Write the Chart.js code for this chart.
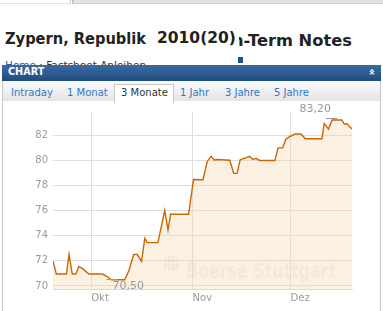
<!DOCTYPE html>
<html>
<head>
<meta charset="utf-8">
<title>Zypern, Republik - Chart</title>
<script src="https://cdn.jsdelivr.net/npm/chart.js@4.4.1/dist/chart.umd.min.js"></script>
<style>
  html, body { margin: 0; padding: 0; background: #fff; }
  body { width: 383px; height: 311px; overflow: hidden; position: relative; font-family: 'DejaVu Sans', Verdana, sans-serif; }
  .abs { position: absolute; white-space: nowrap; }
  /* top strip */
  .strip-left { left: 0; top: 0; width: 70px; height: 3px; border-right: 1px solid #cfcfcf; border-bottom: 1px solid #e2e2e2; background: #fff; }
  .strip-right { left: 72px; top: 0; width: 311px; height: 3px; background: #e3e3e3; border-bottom: 1px solid #d2d2d2; border-left: 2px solid #c4c4c4; }
  /* title pieces */
  .title-a { left: 5px; top: 32px; font-size: 15px; line-height: 15px; font-weight: bold; color: #222; transform: scaleX(0.975); transform-origin: left top; }
  .title-c { left: 232px; top: 33px; font-size: 16.3px; line-height: 16px; font-weight: bold; color: #222; }
  .title-b { left: 150px; top: 30px; width: 82px; height: 19px; padding-left: 7px; background: #fff; font-size: 15.5px; line-height: 17px; font-weight: bold; color: #222; overflow: hidden; z-index: 2; }
  .crumbs { left: 5px; top: 60px; font-size: 10.5px; line-height: 11px; color: #333; }
  .crumbs a { color: #1a5fa8; }
  .marker { left: 238px; top: 57px; width: 5px; height: 6px; background: #1f4e85; }
  /* chart box header */
  .bar { left: 2px; top: 65px; width: 379px; height: 16px; background: linear-gradient(#3a6ba1, #1f4c7e); z-index: 3; }
  .bar-title { left: 8px; top: 67px; font-size: 9.7px; line-height: 10px; font-weight: bold; color: #fff; z-index: 4; }
  .bar-icon { left: 368px; top: 65px; font-size: 11px; line-height: 14px; font-weight: bold; color: #fff; transform: rotate(-90deg); z-index: 4; }
  .tabs { left: 2px; top: 81px; width: 377px; height: 20px; background: linear-gradient(#fbfbfb, #e4e4e4); border-left: 1px solid #c8c8c8; border-right: 1px solid #c8c8c8; }
  .tab { top: 87px; font-size: 10px; line-height: 11px; color: #2e78c8; }
  .tab-sel { left: 114px; top: 84px; width: 58px; height: 18px; background: #fff; border: 1px solid #c8c8c8; border-bottom: none; }
  .panel { left: 2px; top: 101px; width: 377px; height: 210px; border-left: 1px solid #c8c8c8; border-right: 1px solid #c8c8c8; }
  canvas { position: absolute; left: 3px; top: 101px; }
</style>
</head>
<body>
  <div class="abs strip-left"></div>
  <div class="abs strip-right"></div>

  <div class="abs title-a">Zypern, Republik</div>
  <div class="abs title-c">n-Term Notes</div>
  <div class="abs title-b">2010(20)</div>

  <div class="abs crumbs"><a href="#">Home</a> : Factsheet Anleihen</div>
  <div class="abs marker"></div>

  <div class="abs bar"></div>
  <div class="abs bar-title">CHART</div>
  <div class="abs bar-icon">&raquo;</div>

  <div class="abs tabs"></div>
  <div class="abs tab-sel"></div>
  <div class="abs tab" style="left:11px">Intraday</div>
  <div class="abs tab" style="left:67px">1 Monat</div>
  <div class="abs tab" style="left:121px;color:#333">3 Monate</div>
  <div class="abs tab" style="left:180px">1 Jahr</div>
  <div class="abs tab" style="left:225px">3 Jahre</div>
  <div class="abs tab" style="left:274px">5 Jahre</div>

  <div class="abs panel"></div>
  <canvas id="chart" width="378" height="210"></canvas>

<script>
// Days counted from 1 Oct
const days = [-11.7, -10.7, -7.6, -6.8, -5.8, -4.7, -3.8, -2.75, -0.7, 3.4, 4.9, 6.2, 10.2, 11.5, 13.0, 14.1, 15.4, 16.4, 17.1, 20.4,
  22.5, 23.5, 24.3, 29.8, 31.3, 34.2, 35.5, 36.7, 37.7, 38.3, 42.4, 43.6, 44.6, 45.6, 47.2, 48.4, 49.5, 50.4, 51.5, 56.2,
  57.2, 58.6, 59.5, 60.7, 62.4, 64.2, 65.5, 70.6, 71.3, 72.6, 73.7, 76.7, 77.4, 78.2, 79.8];
const prices = [72.0, 70.95, 70.95, 72.5, 70.95, 70.95, 71.55, 71.4, 70.95, 70.95, 70.75, 70.5, 70.5, 71.2, 72.5, 72.5, 71.95, 73.8, 73.45, 73.45,
  76.0, 74.45, 75.7, 75.7, 78.47, 78.45, 79.9, 80.3, 80.0, 80.05, 80.0, 78.95, 78.95, 80.04, 80.17, 80.3, 80.05, 80.15, 79.98, 79.98,
  80.98, 80.98, 81.65, 81.87, 82.08, 82.08, 81.7, 81.7, 82.92, 82.48, 83.2, 83.2, 82.87, 82.9, 82.48];

const monthTicks = [0, 31, 61];
const monthLabels = ['Okt', 'Nov', 'Dez'];
const yTicks = [70, 72, 74, 76, 78, 80, 82];

const fmt = v => v.toFixed(2).replace('.', ',');

// Max / min markers with their labels
const extremesPlugin = {
  id: 'extremes',
  afterDraw(chart) {
    const ctx = chart.ctx;
    const xs = chart.scales.x, ys = chart.scales.y;
    const maxV = Math.max(...prices), minV = Math.min(...prices);
    const iMax = prices.indexOf(maxV), iMin = prices.indexOf(minV);
    ctx.save();
    ctx.strokeStyle = '#999';
    ctx.lineWidth = 1;
    ctx.fillStyle = '#999';
    ctx.font = '11px "DejaVu Sans"';
    ctx.textBaseline = 'alphabetic';

    let px = xs.getPixelForValue(days[iMax]), py = ys.getPixelForValue(maxV);
    ctx.beginPath();
    ctx.moveTo(px - 6, Math.round(py) - 1.5);
    ctx.lineTo(px + 5, Math.round(py) - 1.5);
    ctx.stroke();
    ctx.textAlign = 'right';
    ctx.fillText(fmt(maxV), px - 1, py - 7.5);

    px = xs.getPixelForValue(days[iMin]); py = ys.getPixelForValue(minV);
    ctx.beginPath();
    ctx.moveTo(px - 5, Math.round(py) - 0.5);
    ctx.lineTo(px + 6, Math.round(py) - 0.5);
    ctx.stroke();
    ctx.textAlign = 'left';
    ctx.fillText(fmt(minV), px + 1, py + 9.7);
    ctx.restore();
  }
};

// Faint exchange watermark in the lower right
const watermarkPlugin = {
  id: 'watermark',
  afterDatasetsDraw(chart) {
    const ctx = chart.ctx;
    const a = chart.chartArea;
    ctx.save();
    // little dotted logo
    for (let r = 0; r < 4; r++) {
      for (let c = 0; c < 4; c++) {
        ctx.fillStyle = 'rgba(150,130,115,' + (0.06 + 0.03 * ((r + c) % 3)) + ')';
        ctx.fillRect(a.left + 111 + c * 3.8, a.bottom - 33 + r * 3.8, 3, 3);
      }
    }
    ctx.translate(a.left + 133, a.bottom - 11);
    ctx.scale(0.72, 1);
    ctx.font = 'bold 22px "DejaVu Sans"';
    ctx.fillStyle = 'rgba(150,130,110,0.08)';
    ctx.fillText('Boerse Stuttgart', 0, 0);
    ctx.restore();
  }
};

const ctx = document.getElementById('chart').getContext('2d');
new Chart(ctx, {
  type: 'line',
  data: {
    datasets: [{
      data: days.map((d, i) => ({ x: d, y: prices[i] })),
      borderColor: '#cc6600',
      borderWidth: 1.4,
      backgroundColor: 'rgba(245,218,181,0.38)',
      fill: 'start',
      pointRadius: 0,
      tension: 0
    }]
  },
  options: {
    responsive: false,
    animation: false,
    layout: { padding: { top: 9, right: 29, left: 0, bottom: 0 } },
    plugins: { legend: { display: false }, tooltip: { enabled: false } },
    scales: {
      x: {
        type: 'linear',
        min: days[0],
        max: days[days.length - 1],
        afterBuildTicks: s => { s.ticks = monthTicks.map(v => ({ value: v })); },
        afterFit: s => { s.height = 22; },
        ticks: {
          callback: v => monthLabels[monthTicks.indexOf(v)],
          align: 'start',
          color: '#999',
          font: { family: 'DejaVu Sans', size: 10 },
          padding: 3,
          maxRotation: 0,
          autoSkip: false
        },
        grid: { color: '#dedede', drawTicks: false },
        border: { color: '#dadada' }
      },
      y: {
        min: 69.76,
        max: 83.83,
        afterBuildTicks: s => { s.ticks = yTicks.map(v => ({ value: v })); },
        afterFit: s => { s.width = 50; },
        ticks: {
          color: '#999',
          font: { family: 'DejaVu Sans', size: 10 },
          padding: 5
        },
        grid: { color: '#dedede', drawTicks: false },
        border: { display: false }
      }
    }
  },
  plugins: [watermarkPlugin, extremesPlugin]
});
</script>
</body>
</html>
